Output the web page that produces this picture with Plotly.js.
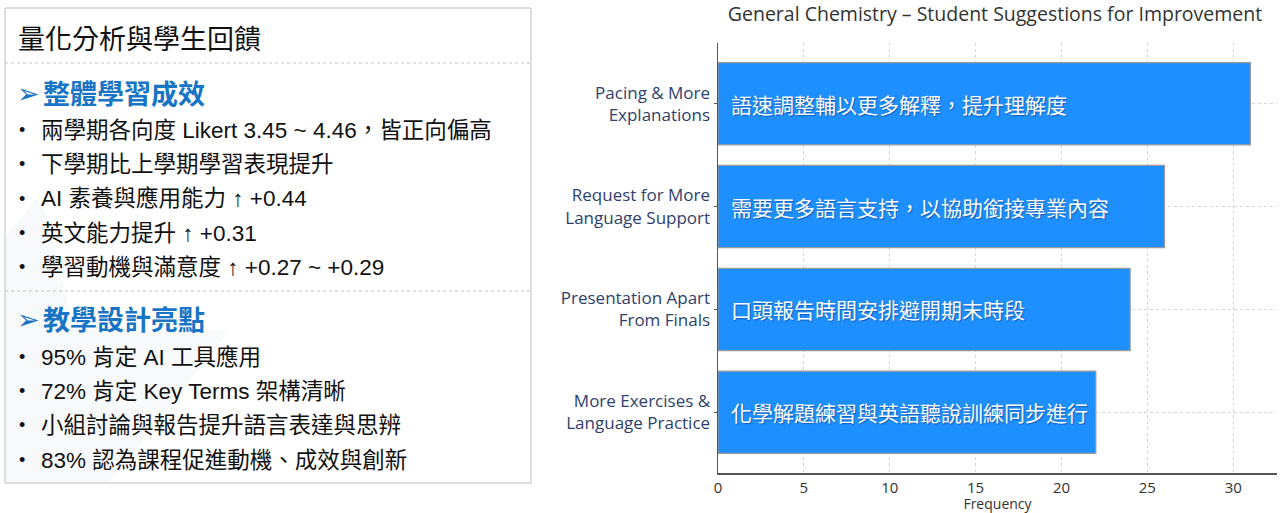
<!DOCTYPE html>
<html>
<head>
<meta charset="utf-8">
<script src="https://cdn.plot.ly/plotly-3.0.1.min.js"></script>
<style>
html,body{margin:0;padding:0;background:#fff;}
#chart{width:1284px;height:513px;}
</style>
</head>
<body>
<div id="chart"></div>
<script>
// ---- Data ----
const categories = [
  "Pacing & More<br>Explanations",
  "Request for More<br>Language Support",
  "Presentation Apart<br>From Finals",
  "More Exercises &<br>Language Practice"
];
const frequencies = [31, 26, 24, 22];
const barLabels = [
  "語速調整輔以更多解釋，提升理解度",
  "需要更多語言支持，以協助銜接專業內容",
  "口頭報告時間安排避開期末時段",
  "化學解題練習與英語聽說訓練同步進行"
];
const xTickVals = [0, 5, 10, 15, 20, 25, 30];
const chartTitle = "General Chemistry – Student Suggestions for Improvement";
const panelTitle = "量化分析與學生回饋";
const heading1 = "整體學習成效";
const bullets1 = [
  "兩學期各向度 Likert 3.45 ~ 4.46，皆正向偏高",
  "下學期比上學期學習表現提升",
  "AI 素養與應用能力 ↑ +0.44",
  "英文能力提升 ↑ +0.31",
  "學習動機與滿意度 ↑ +0.27 ~ +0.29"
];
const heading2 = "教學設計亮點";
const bullets2 = [
  "95% 肯定 AI 工具應用",
  "72% 肯定 Key Terms 架構清晰",
  "小組討論與報告提升語言表達與思辨",
  "83% 認為課程促進動機、成效與創新"
];

// ---- Layout helpers (pixel -> paper) ----
const W = 1284, H = 513;
const px = x => x / W;
const py = y => 1 - y / H;

const cjk = "Liberation Sans, Arial, 'Noto Sans CJK TC', sans-serif";
const chartFont = "'Open Sans', 'Noto Sans CJK TC', sans-serif";

const annotations = [];
const shapes = [];

// left panel box
shapes.push({type:'rect', xref:'paper', yref:'paper', x0:px(5), x1:px(531), y0:py(483), y1:py(8),
  line:{color:'#bdbdbd', width:1}, fillcolor:'rgba(0,0,0,0)', layer:'below'});
// faint background shape
shapes.push({type:'path', xref:'paper', yref:'paper',
  path:`M ${px(6)} ${py(235)} L ${px(40)} ${py(195)} L ${px(75)} ${py(330)} L ${px(230)} ${py(330)} L ${px(110)} ${py(482)} L ${px(6)} ${py(482)} Z`,
  line:{width:0}, fillcolor:'rgba(238,239,243,0.4)', layer:'below'});
// separators
[63, 291].forEach(y => shapes.push({type:'line', xref:'paper', yref:'paper', x0:px(5), x1:px(531), y0:py(y), y1:py(y),
  line:{color:'#c4c4c4', width:1, dash:'dot'}}));

annotations.push({xref:'paper', yref:'paper', x:px(16), y:py(37), xanchor:'left', yanchor:'middle',
  text:panelTitle, showarrow:false, font:{family:"'Noto Sans CJK TC', sans-serif", size:27, color:'#111'}});

function heading(txt, y){
  annotations.push({xref:'paper', yref:'paper', x:px(15), y:py(y+1), xanchor:'left', yanchor:'middle',
    text:'➢', showarrow:false, font:{family:"'DejaVu Sans', sans-serif", size:27, color:'#1874c4'}});
  annotations.push({xref:'paper', yref:'paper', x:px(41), y:py(y), xanchor:'left', yanchor:'middle',
    text:'<b>'+txt+'</b>', showarrow:false, font:{family:"'Noto Sans CJK TC', sans-serif", size:27, color:'#1874c4'}});
}
function bullet(txt, y){
  annotations.push({xref:'paper', yref:'paper', x:px(22), y:py(y), xanchor:'center', yanchor:'middle',
    text:'•', showarrow:false, font:{family:cjk, size:18, color:'#111'}});
  annotations.push({xref:'paper', yref:'paper', x:px(39), y:py(y), xanchor:'left', yanchor:'middle',
    text:txt, showarrow:false, font:{family:cjk, size:22.5, color:'#111'}});
}
heading(heading1, 92);
const b1y = [130, 164, 199, 233, 267];
bullets1.forEach((t,i) => bullet(t, b1y[i]));
heading(heading2, 318);
const b2y = [357, 391, 425, 460];
bullets2.forEach((t,i) => bullet(t, b2y[i]));

// bar labels inside bars
categories.forEach((c,i) => annotations.push({
  x:0, y:c, xref:'x', yref:'y', xanchor:'left', yanchor:'middle', xshift:11,
  text:barLabels[i], showarrow:false,
  font:{family:"'Noto Sans CJK TC', sans-serif", size:21, color:'#ffffff', shadow:'1px 1px 1px rgba(0,0,60,0.35)'}
}));

const trace = {
  type:'bar', orientation:'h',
  x: frequencies, y: categories,
  width: 0.8,
  marker:{color:'#1e8fff', line:{color:'#9a9a9a', width:1.2}},
  hoverinfo:'x+y'
};

const layout = {
  width: W, height: H,
  margin:{l:0, r:0, t:0, b:0},
  paper_bgcolor:'#fff', plot_bgcolor:'#fff',
  showlegend:false,
  title:{text:chartTitle, x:px(995), xanchor:'center', xref:'paper', y:py(14), yref:'paper', yanchor:'middle',
    font:{family:chartFont, size:19.5, color:'#333'}},
  xaxis:{
    domain:[px(718), px(1277)],
    range:[0, 32.55],
    tickvals:xTickVals,
    showgrid:true, gridcolor:'#d6d6d6', griddash:'dot', gridwidth:1,
    zeroline:false,
    showline:true, linecolor:'#555', linewidth:1.5,
    ticks:'',
    tickfont:{family:chartFont, size:15, color:'#333'},
    title:{text:'Frequency', font:{family:chartFont, size:14, color:'#333'}, standoff:3}
  },
  yaxis:{
    domain:[py(473), py(43)],
    type:'category',
    range:[3.59, -0.59],
    showgrid:true, gridcolor:'#d6d6d6', griddash:'dot', gridwidth:1,
    zeroline:false,
    showline:true, linecolor:'#555', linewidth:1.5,
    ticks:'outside', ticklen:3, tickcolor:'#555',
    tickfont:{family:chartFont, size:17, color:'#2e3f6e'}
  },
  shapes: shapes,
  annotations: annotations
};

Plotly.newPlot('chart', [trace], layout, {displayModeBar:false, staticPlot:true});
</script>
</body>
</html>
